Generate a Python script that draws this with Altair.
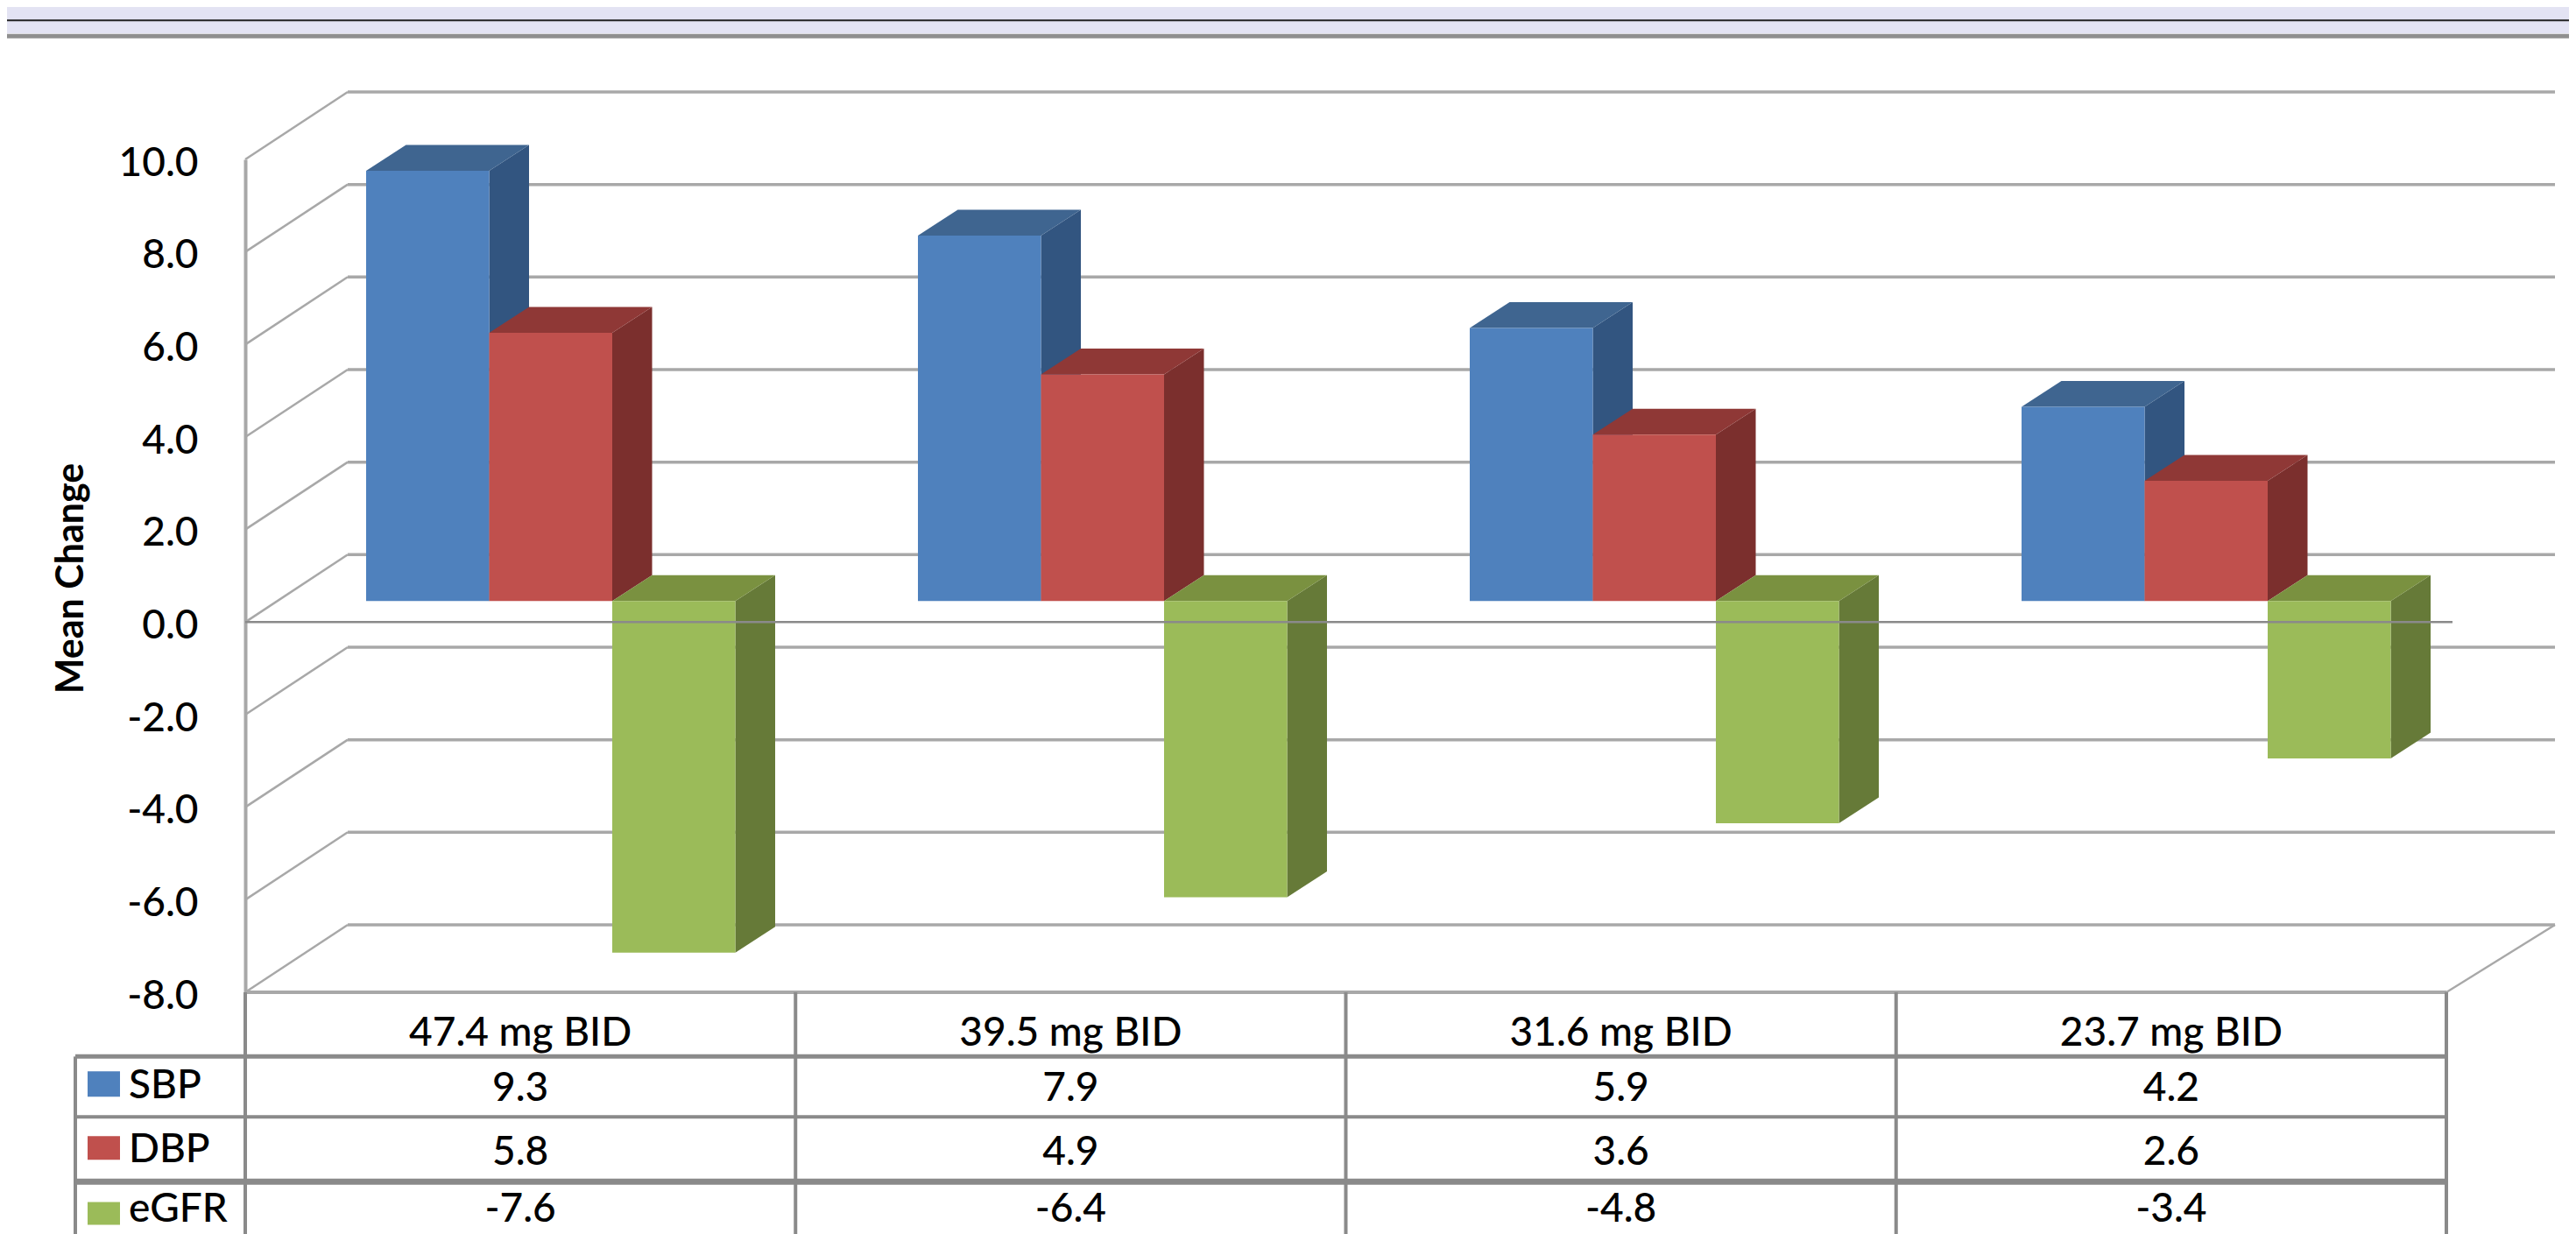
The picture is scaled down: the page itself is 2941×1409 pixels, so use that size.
import altair as alt
import pandas as pd

categories = ["47.4 mg BID", "39.5 mg BID", "31.6 mg BID", "23.7 mg BID"]
sbp = [9.3, 7.9, 5.9, 4.2]
dbp = [5.8, 4.9, 3.6, 2.6]
egfr = [-7.6, -6.4, -4.8, -3.4]
series_names = ["SBP", "DBP", "eGFR"]
tick_values = [-8, -6, -4, -2, 0, 2, 4, 6, 8, 10]

FONT = "Lato"
X0, COL = 280.0, 628.25
Y0, UNIT = 710.0, 52.83


def xu(px):
    return (px - X0) / COL


def yu(px):
    return (Y0 - px) / UNIT


xs = alt.Scale(domain=[0, 4], range=[0, 2513], nice=False, zero=False)
ys = alt.Scale(domain=[-8, 10], nice=False, zero=False)
XE = alt.X("x:Q", scale=xs, axis=None)
YE = alt.Y("y:Q", scale=ys, axis=None)

# shade colours: front, top, side
shades = {
    "SBP": ("#4F81BD", "#3F6590", "#325580"),
    "DBP": ("#C0504D", "#8F3836", "#7B2F2D"),
    "eGFR": ("#9BBB59", "#7A9140", "#667A38"),
}
values = {"SBP": sbp, "DBP": dbp, "eGFR": egfr}

BAR_W = 140.5
BAR_DX = 45.5 / COL
BAR_DY = 29.5 / UNIT
BASE = 24.0 / UNIT
FIRST_BAR = 418.0
BAR_STEP = 630.0
WALL_DY = 77.0 / UNIT
WALL_L = xu(397)
WALL_R = xu(2917)
GRID = "#A8A8A8"
LINE = "#8A8A8A"


def rules(rows, color, width):
    df = pd.DataFrame(rows, columns=["x", "y", "x2", "y2"])
    return alt.Chart(df).mark_rule(color=color, strokeWidth=width).encode(
        x=XE, y=YE, x2="x2:Q", y2="y2:Q"
    )


layers = []

# y axis carried by an invisible layer
axis_df = pd.DataFrame({"y": tick_values})
layers.append(
    alt.Chart(axis_df)
    .mark_point(opacity=0)
    .encode(
        y=alt.Y(
            "y:Q",
            scale=ys,
            axis=alt.Axis(
                values=tick_values,
                labelExpr="replace(format(datum.value, '.1f'), '\u2212', '-')",
                labelFont=FONT,
                labelFontSize=46,
                labelFontWeight=500,
                labelOffset=4,
                labelColor="#000000",
                labelPadding=54,
                ticks=False,
                grid=False,
                domain=True,
                domainColor=GRID,
                domainWidth=4,
                title="Mean Change",
                titleFont=FONT,
                titleFontSize=43,
                titleFontWeight="bold",
                titleColor="#000000",
                titleX=-177,
                titleY=478,
            ),
        )
    )
)

# top band
band = pd.DataFrame({"x": [xu(0)], "x2": [xu(2941)], "y": [yu(0)], "y2": [yu(38)]})
layers.append(
    alt.Chart(band).mark_rect(color="#E3E3F3").encode(x=XE, x2="x2:Q", y=YE, y2="y2:Q")
)
layers.append(rules([[xu(0), yu(23), xu(2941), yu(23)]], "#222222", 2))
layers.append(rules([[xu(0), yu(41), xu(2941), yu(41)]], "#8F8F8F", 5))

# walls: back gridlines and left diagonals
back = [[WALL_L, v + WALL_DY, WALL_R, v + WALL_DY] for v in tick_values]
diag = [[0, v, WALL_L, v + WALL_DY] for v in tick_values]
layers.append(rules(back, GRID, 3.5))
layers.append(rules(diag, GRID, 2.5))
layers.append(rules([[4, -8, WALL_R, -8 + WALL_DY]], GRID, 2.5))
layers.append(rules([[0, -8, 4, -8]], GRID, 4))

# bars: side, top, front in painter's order
for s_idx, name in enumerate(series_names):
    front_c, top_c, side_c = shades[name]
    side_rows, top_rows, front_rows = [], [], []
    for c_idx, cat in enumerate(categories):
        v = values[name][c_idx]
        left = xu(FIRST_BAR + BAR_STEP * c_idx + BAR_W * s_idx)
        right = xu(FIRST_BAR + BAR_STEP * c_idx + BAR_W * (s_idx + 1))
        hi = max(v, 0) + BASE
        lo = min(v, 0) + BASE
        side_rows += [
            {"cat": cat, "x": right, "y": hi, "y2": lo},
            {"cat": cat, "x": right + BAR_DX, "y": hi + BAR_DY, "y2": lo + BAR_DY},
        ]
        top_rows += [
            {"cat": cat, "y": hi, "x": left, "x2": right},
            {"cat": cat, "y": hi + BAR_DY, "x": left + BAR_DX, "x2": right + BAR_DX},
        ]
        front_rows.append({"cat": cat, "x": left, "x2": right, "y": hi, "y2": lo})
    layers.append(
        alt.Chart(pd.DataFrame(side_rows))
        .mark_area(color=side_c, orient="vertical")
        .encode(x=XE, y=YE, y2="y2:Q", detail="cat:N")
    )
    layers.append(
        alt.Chart(pd.DataFrame(top_rows))
        .mark_area(color=top_c, orient="horizontal")
        .encode(x=XE, x2="x2:Q", y=YE, detail="cat:N")
    )
    layers.append(
        alt.Chart(pd.DataFrame(front_rows))
        .mark_rect(color=front_c)
        .encode(x=XE, x2="x2:Q", y=YE, y2="y2:Q")
    )

# zero line sits on top of the bars
layers.append(rules([[0, 0, xu(2800), 0]], "#8A8A8A", 2.5))

# data table frame
TABLE_BOTTOM = yu(1420)
table_x = [xu(86), 0, 1, 2, 3, 4]
for col, tx in enumerate(table_x):
    top = yu(1206) if col == 0 else -8
    layers.append(rules([[tx, top, tx, TABLE_BOTTOM]], LINE, 4))
for px, w in [(1206, 5), (1275, 4), (1349, 7)]:
    layers.append(rules([[xu(86), yu(px), 4, yu(px)]], LINE, w))

# table text
text_kw = dict(font=FONT, fontSize=46, fontWeight=500, color="#000000", baseline="middle")
head = pd.DataFrame(
    {"x": [i + 0.5 for i in range(4)], "y": [yu(1180)] * 4, "t": categories}
)
layers.append(
    alt.Chart(head).mark_text(align="center", **text_kw).encode(x=XE, y=YE, text="t:N")
)
row_y = {"SBP": 1243, "DBP": 1316, "eGFR": 1381}
label_y = {"SBP": 1240, "DBP": 1313, "eGFR": 1381}
swatch = {"SBP": (1223, 1252), "DBP": (1297, 1324), "eGFR": (1372, 1398)}
for name in series_names:
    df = pd.DataFrame(
        {
            "x": [i + 0.5 for i in range(4)],
            "y": [yu(row_y[name])] * 4,
            "t": [f"{v:.1f}" for v in values[name]],
        }
    )
    layers.append(
        alt.Chart(df).mark_text(align="center", **text_kw).encode(x=XE, y=YE, text="t:N")
    )
    lab = pd.DataFrame({"x": [xu(147)], "y": [yu(label_y[name])], "t": [name]})
    layers.append(
        alt.Chart(lab).mark_text(align="left", **text_kw).encode(x=XE, y=YE, text="t:N")
    )
    sw = pd.DataFrame(
        {
            "x": [xu(100)],
            "x2": [xu(137)],
            "y": [yu(swatch[name][0])],
            "y2": [yu(swatch[name][1])],
        }
    )
    layers.append(
        alt.Chart(sw)
        .mark_rect(color=shades[name][0])
        .encode(x=XE, x2="x2:Q", y=YE, y2="y2:Q")
    )

chart = (
    alt.layer(*layers)
    .resolve_axis(y="independent")
    .properties(
        width=2513,
        height=951,
        background="#FFFFFF",
        padding={"left": 272, "top": 174, "right": 140, "bottom": 276},
        autosize=alt.AutoSizeParams(type="none"),
    )
    .configure_view(stroke=None)
)

chart.save("out.html", embed_options={"renderer": "svg", "actions": False})
